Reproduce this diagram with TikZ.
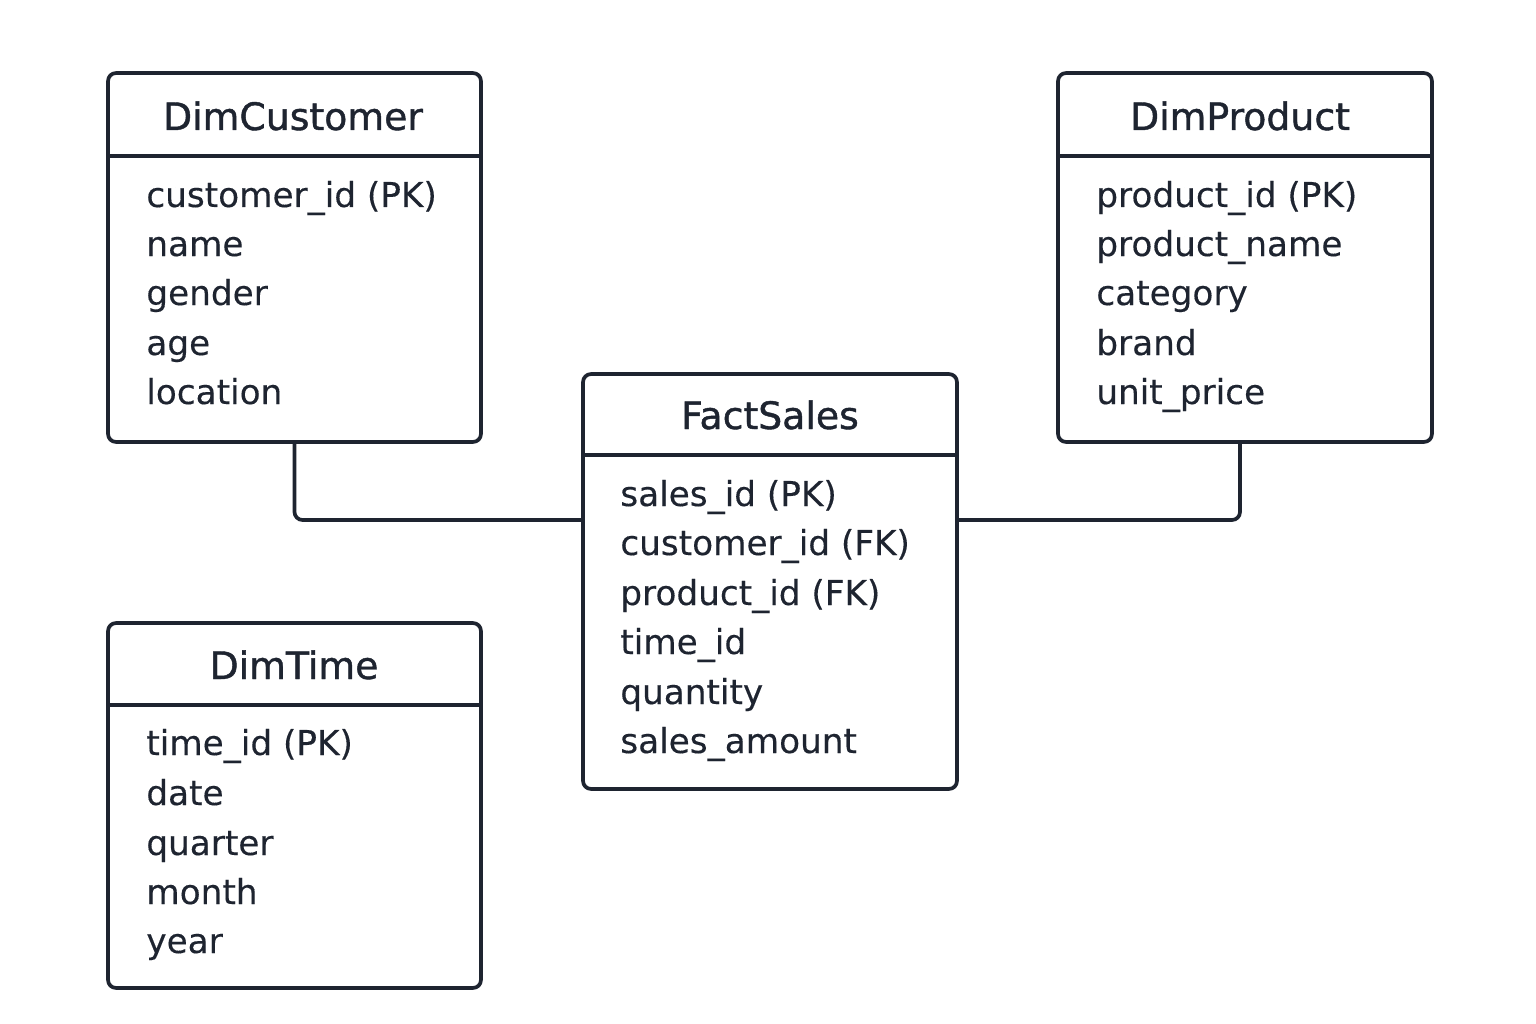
\documentclass[tikz,border=0pt]{standalone}
\usepackage{fontspec}
\setmainfont[FakeBold=0.25]{DejaVu Sans}
\newfontfamily\ttlfont[FakeBold=1.1]{DejaVu Sans}
\definecolor{ink}{HTML}{1E2430}
\begin{document}
\begin{tikzpicture}[x=0.02cm,y=-0.02cm,
  tbl/.style={draw=ink, line width=2.1pt, rounded corners=0.16cm, inner sep=0pt},
  sep/.style={draw=ink, line width=2.1pt},
  conn/.style={draw=ink, line width=2.1pt, rounded corners=0.16cm},
  ttl/.style={text=ink, font=\ttlfont\fontsize{21.5pt}{24pt}\selectfont, anchor=base, inner sep=0pt},
  row/.style={text=ink, font=\fontsize{19.5pt}{22pt}\selectfont, anchor=base west, inner sep=0pt}]
\useasboundingbox[fill=white] (0,0) rectangle (1536,1024);

% DimCustomer
\node[tbl, minimum width=7.46cm, minimum height=7.38cm] (cust) at (294.5,257.5) {};
\draw[sep] (cust.west |- 0,156) -- (cust.east |- 0,156);
\node[ttl] (custT) at (293,130) {DimCustomer};
\node[row] (c1) at (146,207) {customer\_id (PK)};
\node[row] (c2) at (146,256) {name};
\node[row] (c3) at (146,305) {gender};
\node[row] (c4) at (146,355) {age};
\node[row] (c5) at (146,404) {location};

% DimProduct
\node[tbl, minimum width=7.48cm, minimum height=7.38cm] (prod) at (1245,257.5) {};
\draw[sep] (prod.west |- 0,156) -- (prod.east |- 0,156);
\node[ttl] (prodT) at (1240,130) {DimProduct};
\node[row] (p1) at (1096,207) {product\_id (PK)};
\node[row] (p2) at (1096,256) {product\_name};
\node[row] (p3) at (1096,305) {category};
\node[row] (p4) at (1096,355) {brand};
\node[row] (p5) at (1096,404) {unit\_price};

% FactSales
\node[tbl, minimum width=7.48cm, minimum height=8.30cm] (fact) at (770,581.5) {};
\draw[sep] (fact.west |- 0,455) -- (fact.east |- 0,455);
\node[ttl] (factT) at (770,429) {FactSales};
\node[row] (f1) at (620,506) {sales\_id (PK)};
\node[row] (f2) at (620,555) {customer\_id (FK)};
\node[row] (f3) at (620,605) {product\_id (FK)};
\node[row] (f4) at (620,654) {time\_id};
\node[row] (f5) at (620,704) {quantity};
\node[row] (f6) at (620,753) {sales\_amount};

% DimTime
\node[tbl, minimum width=7.46cm, minimum height=7.30cm] (time) at (294.5,805.5) {};
\draw[sep] (time.west |- 0,705) -- (time.east |- 0,705);
\node[ttl] (timeT) at (294,679) {DimTime};
\node[row] (t1) at (146,755) {time\_id (PK)};
\node[row] (t2) at (146,805) {date};
\node[row] (t3) at (146,855) {quarter};
\node[row] (t4) at (146,904) {month};
\node[row] (t5) at (146,953) {year};

% connectors
\draw[conn] (cust.south) |- (fact.west |- 0,520);
\draw[conn] (prod.south -| 1240,0) |- (fact.east |- 0,520);
\end{tikzpicture}
\end{document}
